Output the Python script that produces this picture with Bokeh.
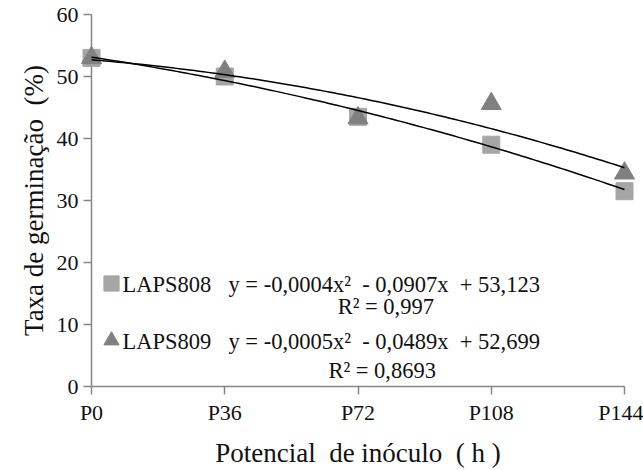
from bokeh.plotting import figure
from bokeh.models import Range1d, FixedTicker, Legend, LegendItem, Label
from bokeh.embed import file_html
from bokeh.resources import INLINE
import numpy as np

# ---- data ----
hours = [0, 36, 72, 108, 144]
tick_labels = ["P0", "P36", "P72", "P108", "P144"]
laps808 = [53.0, 50.0, 43.5, 39.0, 31.5]
laps809 = [53.0, 50.8, 43.3, 45.6, 34.4]
coef808 = [-0.0004, -0.0907, 53.123]
coef809 = [-0.0005, -0.0489, 52.699]
series_names = ["LAPS808", "LAPS809"]
eq808 = "y = -0,0004x²\u00a0 - 0,0907x\u00a0 + 53,123"
r2_808 = "R² = 0,997"
eq809 = "y = -0,0005x²\u00a0 - 0,0489x\u00a0 + 52,699"
r2_809 = "R² = 0,8693"
y_ticks = [0, 10, 20, 30, 40, 50, 60]
x_title = "Potencial\u00a0 de inóculo\u00a0 ( h )"
y_title = "Taxa de germinação\u00a0 (%)"

FONT = "Liberation Serif"
AXIS_GRAY = "#868686"
TXT = "#111111"

p = figure(width=643, height=470, output_backend="svg", toolbar_location=None,
           x_range=Range1d(0, 144), y_range=Range1d(0, 60),
           min_border_left=91, min_border_right=19, min_border_top=14, min_border_bottom=82)
p.outline_line_color = None
p.grid.grid_line_color = None
p.background_fill_color = "white"
p.border_fill_color = "white"

# x axis
xa = p.xaxis[0]
xa.ticker = FixedTicker(ticks=hours)
xa.major_label_overrides = {h: t for h, t in zip(hours, tick_labels)}
xa.axis_line_color = AXIS_GRAY
xa.axis_line_width = 1.5
xa.major_tick_line_color = AXIS_GRAY
xa.major_tick_line_width = 1.5
xa.major_tick_out = 8
xa.major_tick_in = 0
xa.minor_tick_line_color = None
xa.major_label_text_font = FONT
xa.major_label_text_font_size = "22px"
xa.major_label_text_color = TXT
xa.major_label_standoff = 5
xa.axis_label = x_title
xa.axis_label_text_font = FONT
xa.axis_label_text_font_size = "27px"
xa.axis_label_text_font_style = "normal"
xa.axis_label_text_color = TXT
xa.axis_label_standoff = 10

# y axis
ya = p.yaxis[0]
ya.ticker = FixedTicker(ticks=y_ticks)
ya.axis_line_color = AXIS_GRAY
ya.axis_line_width = 1.5
ya.major_tick_line_color = AXIS_GRAY
ya.major_tick_line_width = 1.5
ya.major_tick_out = 8
ya.major_tick_in = 0
ya.minor_tick_line_color = None
ya.major_label_text_font = FONT
ya.major_label_text_font_size = "22px"
ya.major_label_text_color = TXT
ya.major_label_standoff = 5
ya.axis_label = y_title
ya.axis_label_text_font = FONT
ya.axis_label_text_font_size = "27px"
ya.axis_label_text_font_style = "normal"
ya.axis_label_text_color = TXT
ya.axis_label_standoff = 5

# markers (overlay level so the edge points are not clipped by the frame)
r808 = p.scatter(hours, laps808, marker="square", size=17, fill_color="#a6a6a6",
                 line_color="#a6a6a6", level="overlay")
r809 = p.scatter(hours, laps809, marker="triangle", size=20, fill_color="#808080",
                 line_color="#808080", level="overlay")

# trend lines (from the printed polynomial coefficients)
xs = np.linspace(hours[0], hours[-1], 120)
p.line(xs, np.polyval(coef808, xs), line_color="black", line_width=1.5, level="overlay")
p.line(xs, np.polyval(coef809, xs), line_color="black", line_width=1.5, level="overlay")

# legend swatches
legend = Legend(items=[LegendItem(label=" ", renderers=[r808]),
                       LegendItem(label=" ", renderers=[r809])],
                location=(1, 27), orientation="vertical",
                background_fill_alpha=0, border_line_color=None,
                padding=0, margin=0, spacing=19,
                glyph_width=38, glyph_height=38, label_height=38, label_standoff=0,
                label_text_font=FONT, label_text_font_size="21px")
p.add_layout(legend)

def lab(x, y, t):
    p.add_layout(Label(x=x, y=y, text=t, text_font=FONT, text_font_size="22.5px",
                       text_color=TXT, text_baseline="middle", text_align="left"))

lab(8.4, 16.45, series_names[0])
lab(8.4, 7.3, series_names[1])
lab(37.0, 16.45, eq808)
lab(66.5, 12.83, r2_808)
lab(37.0, 7.22, eq809)
lab(64.0, 2.57, r2_809)

open("out.html", "w").write(file_html(p, INLINE))
